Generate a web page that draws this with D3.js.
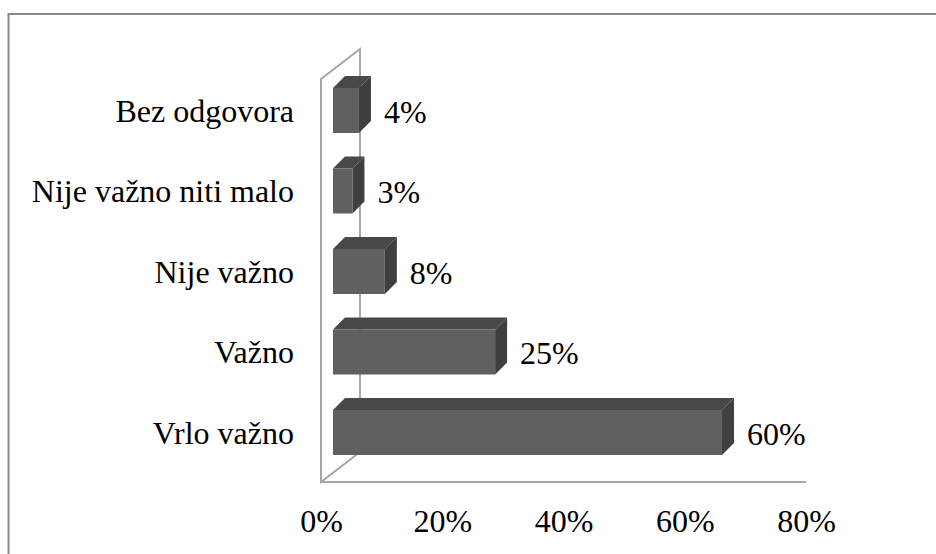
<!DOCTYPE html>
<html>
<head>
    <meta charset="utf-8">
    <script src="https://d3js.org/d3.v7.min.js"></script>
    <style>
        body {
            margin: 0;
            background: #fff;
        }
    </style>
</head>
<body>
    <svg id="chart" width="936" height="554"></svg>

    <script>
        // Data
        const categories = ["Bez odgovora", "Nije važno niti malo", "Nije važno", "Važno", "Vrlo važno"];
        const values = [4, 3, 8, 25, 60];
        const tickValues = [0, 20, 40, 60, 80];

        const FONT = "'Liberation Serif', Tinos, 'Times New Roman', Times, 'DejaVu Serif', serif";

        const svg = d3.select("#chart");

        // outer frame (only left and top edges are inside the picture)
        svg.append("rect")
            .attr("x", 8.5).attr("y", 14)
            .attr("width", 1000).attr("height", 600)
            .attr("fill", "none")
            .attr("stroke", "#878787")
            .attr("stroke-width", 2);

        // scales
        const y = d3.scalePoint().domain(categories).range([110.5, 432.5]);
        const xBar = d3.scaleLinear().domain([0, 80]).range([333, 851.7]);
        const xAxis = d3.scaleLinear().domain([0, 80]).range([321, 806]);

        const barH = 45;
        const dx = 12, dy = -12;   // bar depth
        const wx = 39, wy = -30;   // wall depth

        // back wall + floor edge
        const wall = svg.append("g")
            .attr("fill", "none")
            .attr("stroke", "#a6a6a6")
            .attr("stroke-width", 2);
        const x0 = xAxis(0), yTop = 79, yBot = 482;
        wall.append("path")
            .attr("d", `M${x0},${yBot} L${x0},${yTop} L${x0 + wx},${yTop + wy} L${x0 + wx},${yBot + wy} Z`);
        wall.append("line")
            .attr("x1", x0).attr("y1", yBot)
            .attr("x2", xAxis(80)).attr("y2", yBot);

        // bars
        const bars = svg.selectAll(".bar")
            .data(categories.map((c, i) => ({ cat: c, val: values[i] })))
            .enter()
            .append("g")
            .attr("class", "bar");

        bars.each(function (d) {
            const g = d3.select(this);
            const xl = xBar(0), xr = xBar(d.val);
            const yt = y(d.cat) - barH / 2, yb = y(d.cat) + barH / 2;
            // top face
            g.append("path")
                .attr("d", `M${xl},${yt} L${xl + dx},${yt + dy} L${xr + dx},${yt + dy} L${xr},${yt} Z`)
                .attr("fill", "#484848");
            // side face
            g.append("path")
                .attr("d", `M${xr},${yt} L${xr + dx},${yt + dy} L${xr + dx},${yb + dy} L${xr},${yb} Z`)
                .attr("fill", "#3f3f3f");
            // front face
            g.append("rect")
                .attr("x", xl).attr("y", yt)
                .attr("width", xr - xl).attr("height", barH)
                .attr("fill", "#606060");
        });

        // value labels
        bars.append("text")
            .attr("x", d => xBar(d.val) + 25)
            .attr("y", d => y(d.cat) + 12)
            .style("font-family", FONT)
            .style("font-size", "32px")
            .attr("fill", "#000")
            .text(d => d.val + "%");

        // category labels
        svg.selectAll(".cat")
            .data(categories)
            .enter()
            .append("text")
            .attr("class", "cat")
            .attr("x", 294)
            .attr("y", d => y(d) + 11)
            .attr("text-anchor", "end")
            .style("font-family", FONT)
            .style("font-size", "32px")
            .attr("fill", "#000")
            .text(d => d);

        // x axis labels
        const axis = svg.append("g")
            .attr("transform", `translate(0,${yBot})`)
            .call(d3.axisBottom(xAxis).tickValues(tickValues).tickSize(0).tickPadding(0).tickFormat(d => d + "%"));
        axis.select(".domain").remove();
        axis.selectAll("text")
            .attr("y", 50)
            .attr("dy", 0)
            .style("font-family", FONT)
            .style("font-size", "32px")
            .attr("fill", "#000");
    </script>
</body>
</html>
